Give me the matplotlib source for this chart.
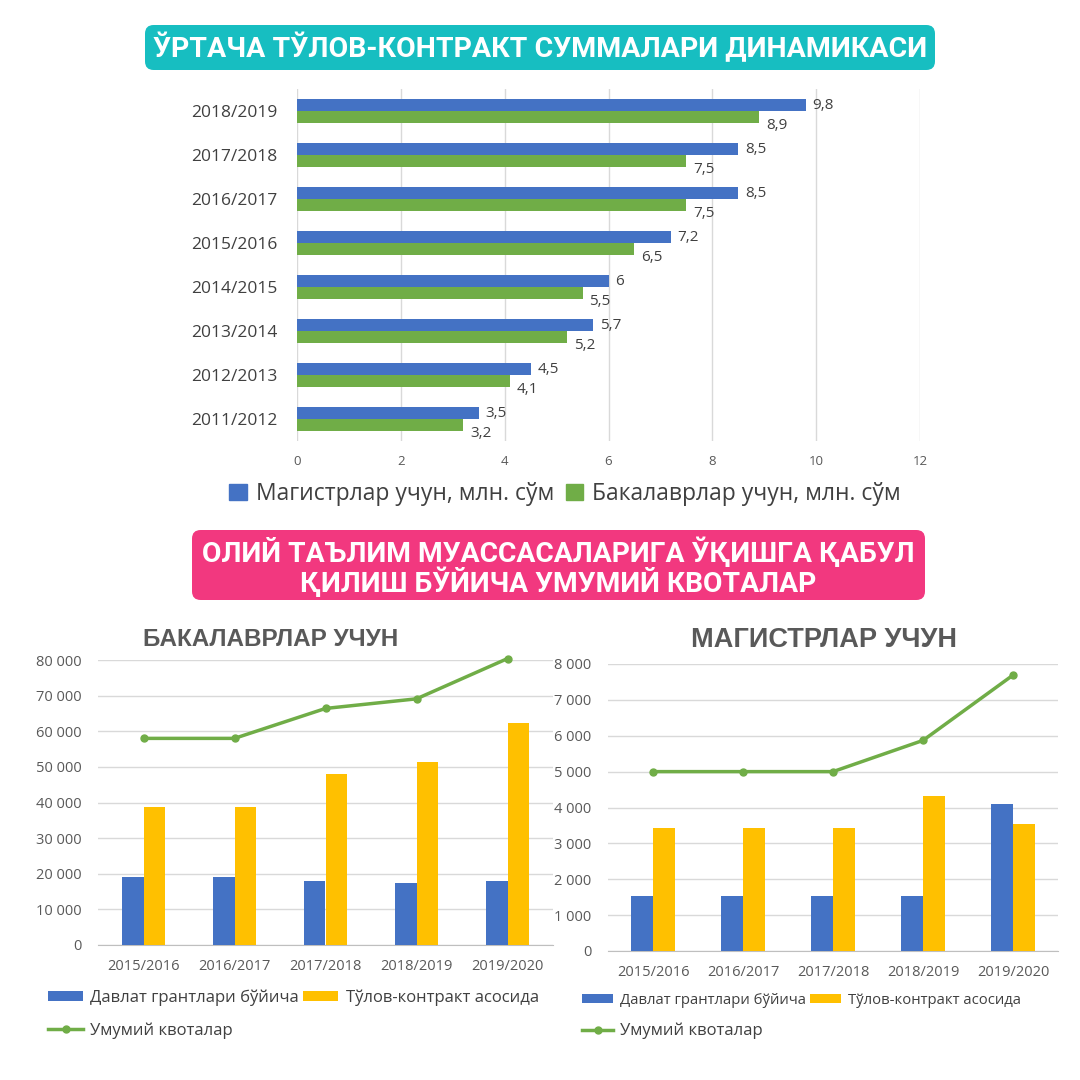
import matplotlib
matplotlib.use('Agg')
import matplotlib.pyplot as plt
from matplotlib.patches import FancyBboxPatch, Patch
import numpy as np

# top chart data (mln. sum)
years_top = ['2011/2012', '2012/2013', '2013/2014', '2014/2015',
             '2015/2016', '2016/2017', '2017/2018', '2018/2019']
magistr_sum = [3.5, 4.5, 5.7, 6, 7.2, 8.5, 8.5, 9.8]
bakalavr_sum = [3.2, 4.1, 5.2, 5.5, 6.5, 7.5, 7.5, 8.9]

# bottom charts data
years_q = ['2015/2016', '2016/2017', '2017/2018', '2018/2019', '2019/2020']
bak_grant = [19100, 19100, 18000, 17400, 18000]
bak_contract = [38800, 38800, 48000, 51400, 62300]
bak_total = [58000, 58000, 66400, 69100, 80400]
mag_grant = [1530, 1530, 1530, 1530, 4100]
mag_contract = [3430, 3430, 3430, 4330, 3550]
mag_total = [5000, 5000, 5000, 5870, 7690]

BLUE = '#4472C4'
GREEN = '#70AD47'
ORANGE = '#FFC000'
GRID = '#D9D9D9'
TXT = '#404040'

plt.rcParams['font.family'] = ['Open Sans', 'DejaVu Sans']

fig = plt.figure(figsize=(10.8, 10.8), dpi=100)
W = 1080.0


def box(x0, y0, x1, y1):
    # pixel box -> figure fraction [left, bottom, width, height]
    return [x0 / W, 1 - y1 / W, (x1 - x0) / W, (y1 - y0) / W]


def banner(x0, y0, x1, y1, color):
    l, b, w, h = box(x0, y0, x1, y1)
    p = FancyBboxPatch((l, b), w, h, boxstyle='round,pad=0,rounding_size=0.008',
                       transform=fig.transFigure, facecolor=color, edgecolor='none')
    fig.patches.append(p)


head_font = ['Roboto', 'Liberation Sans', 'DejaVu Sans']

# ---- top banner
banner(145, 25, 935, 70, '#17BEC1')
fig.text(540 / W, 1 - 48 / W, 'ЎРТАЧА ТЎЛОВ-КОНТРАКТ СУММАЛАРИ ДИНАМИКАСИ',
         ha='center', va='center', color='white', fontsize=20.5, fontweight='bold',
         family=head_font)

# ---- top horizontal bar chart
ax1 = fig.add_axes(box(297, 89, 920, 441))
y = np.arange(len(years_top))
h = 0.27
ax1.barh(y + h / 2, magistr_sum, height=h, color=BLUE, zorder=3)
ax1.barh(y - h / 2, bakalavr_sum, height=h, color=GREEN, zorder=3)
for i in range(len(years_top)):
    ax1.annotate(f'{magistr_sum[i]:g}'.replace('.', ','), (magistr_sum[i], y[i] + h / 2),
                 xytext=(5, 0), textcoords='offset points', va='center', ha='left',
                 fontsize=11, color=TXT)
    ax1.annotate(f'{bakalavr_sum[i]:g}'.replace('.', ','), (bakalavr_sum[i], y[i] - h / 2),
                 xytext=(5, -6), textcoords='offset points', va='center', ha='left',
                 fontsize=11, color=TXT)
ax1.set_xlim(0, 12)
ax1.set_ylim(-0.5, len(years_top) - 0.5)
ax1.set_xticks(range(0, 13, 2))
ax1.set_yticks(y)
ax1.set_yticklabels(years_top, fontsize=12.5, color=TXT)
ax1.tick_params(axis='x', labelsize=9.5, colors='#595959', length=0, pad=10)
ax1.tick_params(axis='y', length=0, pad=14)
ax1.grid(axis='x', color=GRID, linewidth=1, zorder=0)
for s in ax1.spines.values():
    s.set_visible(False)
leg1 = fig.legend(handles=[Patch(color=BLUE, label='Магистрлар учун, млн. сўм'),
                           Patch(color=GREEN, label='Бакалаврлар учун, млн. сўм')],
                  loc='center', bbox_to_anchor=(565 / W, 1 - 494 / W), ncol=2,
                  frameon=False, fontsize=16.5, handlelength=0.75, handleheight=0.75,
                  handletextpad=0.4, columnspacing=0.5)
for t in leg1.get_texts():
    t.set_color(TXT)

# ---- pink banner
banner(192, 530, 925, 600, '#F2387F')
fig.text(558 / W, 1 - 553 / W, 'ОЛИЙ ТАЪЛИМ МУАССАСАЛАРИГА ЎҚИШГА ҚАБУЛ',
         ha='center', va='center', color='white', fontsize=20.3, fontweight='bold',
         family=head_font)
fig.text(558 / W, 1 - 583 / W, 'ҚИЛИШ БЎЙИЧА УМУМИЙ КВОТАЛАР',
         ha='center', va='center', color='white', fontsize=20.3, fontweight='bold',
         family=head_font)


def quota_chart(rect, grant, contract, total, ymax, step, title, title_x, title_size,
                leg_x, leg_y, leg_size):
    ax = fig.add_axes(rect)
    x = np.arange(len(years_q))
    w = 0.24
    b1 = ax.bar(x - w / 2, grant, width=w, color=BLUE, zorder=3)
    b2 = ax.bar(x + w / 2, contract, width=w, color=ORANGE, zorder=3)
    ln, = ax.plot(x, total, color=GREEN, linewidth=2.5, marker='o', markersize=5,
                  zorder=4, clip_on=False)
    ax.set_xlim(-0.5, len(years_q) - 0.5)
    ax.set_ylim(0, ymax)
    ticks = np.arange(0, ymax + 1, step)
    ax.set_yticks(ticks)
    ax.set_yticklabels([f'{int(t):,}'.replace(',', ' ') for t in ticks])
    ax.set_xticks(x)
    ax.set_xticklabels(years_q)
    ax.tick_params(axis='both', labelsize=10.5, colors='#595959', length=0)
    ax.tick_params(axis='x', pad=10)
    ax.tick_params(axis='y', pad=12)
    ax.grid(axis='y', color=GRID, linewidth=1, zorder=0)
    for s in ['top', 'right', 'left']:
        ax.spines[s].set_visible(False)
    ax.spines['bottom'].set_color('#BFBFBF')
    fig.text(title_x / W, 1 - 640 / W, title, ha='center', va='center',
             fontsize=title_size, fontweight='bold', color='#595959',
             family=['Liberation Sans', 'DejaVu Sans'])
    b1.set_label('Давлат грантлари бўйича')
    b2.set_label('Тўлов-контракт асосида')
    ln.set_label('Умумий квоталар')
    leg = fig.legend(handles=[b1, ln, b2], loc='center left',
                     bbox_to_anchor=(leg_x / W, 1 - leg_y / W), ncol=2, frameon=False,
                     fontsize=leg_size, handlelength=2.1, handleheight=0.6,
                     handletextpad=0.45, columnspacing=0.25, labelspacing=1.0,
                     borderaxespad=0, borderpad=0)
    for t in leg.get_texts():
        t.set_color(TXT)
    # second row label is a bit larger in the original
    leg.get_texts()[1].set_fontsize(12)
    return ax


quota_chart(box(98, 660, 553, 945), bak_grant, bak_contract, bak_total,
            80000, 10000, 'БАКАЛАВРЛАР УЧУН', 271, 17.5, 48, 1014, 12)
quota_chart(box(608, 664, 1058, 951), mag_grant, mag_contract, mag_total,
            8000, 1000, 'МАГИСТРЛАР УЧУН', 824, 19.5, 582, 1016, 10.7)

fig.savefig('out.png', dpi=100, facecolor='white')
